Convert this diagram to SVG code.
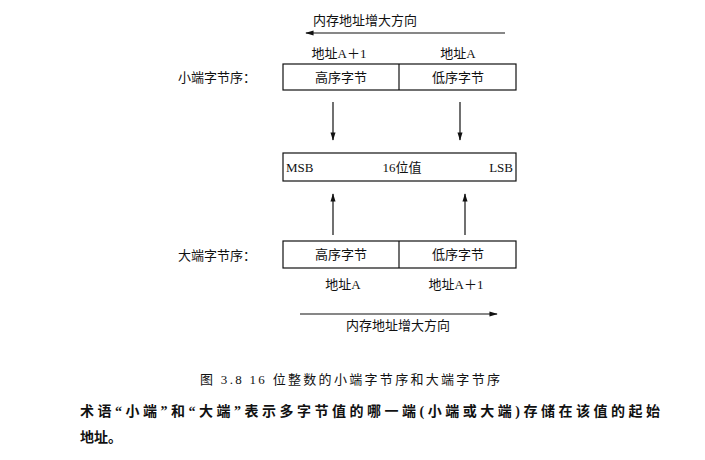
<svg xmlns="http://www.w3.org/2000/svg" width="705" height="460" viewBox="0 0 705 460">
<style>
text{font-family:"Liberation Serif","Noto Sans CJK SC",serif;font-size:13px;fill:#111}
.b{fill:#fff;stroke:#111;stroke-width:1.2}
.l{stroke:#111;stroke-width:1.2;fill:none}
.p{font-size:14px;font-weight:600}
</style>
<defs><marker id="a" viewBox="0 0 10 10" refX="9" refY="5" markerWidth="7" markerHeight="7" orient="auto"><path d="M0,2L10,5L0,8z" fill="#111"/></marker></defs>
<rect width="705" height="460" fill="#fff"/>
<g id="conn">
<line class="l" x1="505" y1="33" x2="306" y2="33" marker-end="url(#a)"/>
<line class="l" x1="333" y1="102" x2="333" y2="140" marker-end="url(#a)"/>
<line class="l" x1="460" y1="102" x2="460" y2="140" marker-end="url(#a)"/>
<line class="l" x1="333" y1="235" x2="333" y2="194" marker-end="url(#a)"/>
<line class="l" x1="465" y1="235" x2="465" y2="194" marker-end="url(#a)"/>
<line class="l" x1="300" y1="314" x2="497" y2="314" marker-end="url(#a)"/>
</g>
<text x="365" y="25" text-anchor="middle">内存地址增大方向</text>
<text x="339" y="58" text-anchor="middle">地址A＋1</text>
<text x="458" y="58" text-anchor="middle">地址A</text>
<text x="178" y="82">小端字节序：</text>
<g id="little"><rect class="b" x="283" y="64" width="233" height="26"/><line class="l" x1="399" y1="64" x2="399" y2="90"/>
<text x="341" y="82" text-anchor="middle">高序字节</text><text x="458" y="82" text-anchor="middle">低序字节</text></g>
<g id="value"><rect class="b" x="283" y="153" width="233" height="28"/>
<text x="286" y="172">MSB</text><text x="402" y="172" text-anchor="middle">16位值</text><text x="513" y="172" text-anchor="end">LSB</text></g>
<text x="178" y="260">大端字节序：</text>
<g id="big"><rect class="b" x="283" y="241" width="233" height="27"/><line class="l" x1="399" y1="241" x2="399" y2="268"/>
<text x="341" y="259" text-anchor="middle">高序字节</text><text x="458" y="259" text-anchor="middle">低序字节</text></g>
<text x="343" y="289" text-anchor="middle">地址A</text>
<text x="456" y="289" text-anchor="middle">地址A＋1</text>
<text x="398" y="330" text-anchor="middle">内存地址增大方向</text>
<text x="200" y="384" textLength="300">图 3.8  16 位整数的小端字节序和大端字节序</text>
<text class="p" x="80" y="416" textLength="580">术语“小端”和“大端”表示多字节值的哪一端(小端或大端)存储在该值的起始</text>
<text class="p" x="80" y="442">地址。</text>
</svg>
